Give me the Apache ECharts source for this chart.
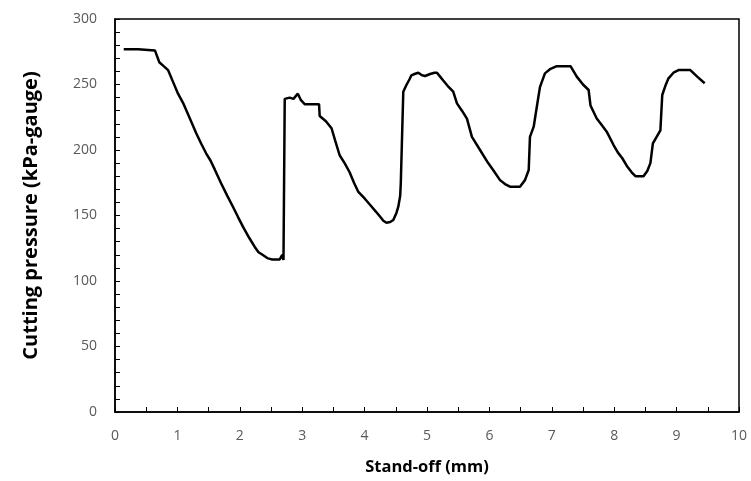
<!DOCTYPE html>
<html>
<head>
<meta charset="utf-8">
<script src="https://cdn.jsdelivr.net/npm/echarts@6/dist/echarts.min.js"></script>
<style>
  body { margin: 0; background: #fff; }
  #main { width: 751px; height: 481px; }
</style>
</head>
<body>
<div id="main"></div>
<script>
// stand-off (mm)
const standOff = [
  0.14, 0.37, 0.38, 0.64, 0.71, 0.78, 0.85, 0.93, 1.01, 1.09,
  1.20, 1.30, 1.38, 1.46, 1.53, 1.60, 1.70, 1.80, 1.89, 1.97,
  2.05, 2.15, 2.24, 2.30, 2.37, 2.44, 2.51, 2.64, 2.68, 2.70,
  2.71, 2.72, 2.80, 2.86, 2.93, 2.98, 3.04, 3.27, 3.28, 3.38,
  3.47, 3.53, 3.60, 3.68, 3.76, 3.83, 3.90, 4.00, 4.09, 4.18,
  4.25, 4.30, 4.35, 4.41, 4.46, 4.51, 4.54, 4.57, 4.58, 4.60,
  4.62, 4.67, 4.72, 4.75, 4.80, 4.86, 4.92, 4.97, 5.05, 5.12,
  5.16, 5.21, 5.26, 5.33, 5.42, 5.48, 5.56, 5.64, 5.72, 5.85,
  5.98, 6.06, 6.17, 6.25, 6.33, 6.49, 6.57, 6.63, 6.65, 6.71,
  6.76, 6.81, 6.89, 6.98, 7.08, 7.30, 7.40, 7.50, 7.59, 7.62,
  7.72, 7.80, 7.88, 7.99, 8.06, 8.13, 8.20, 8.28, 8.34, 8.47,
  8.53, 8.58, 8.62, 8.68, 8.74, 8.77, 8.82, 8.87, 8.95, 9.03,
  9.22, 9.33, 9.45
]
// cutting pressure (kPa-gauge)
const pressure = [
  277, 277, 276, 276, 267, 264, 261, 252, 243, 236,
  224, 213, 205, 197.5, 192, 185, 174.6, 165, 156.7, 149,
  141.5, 133, 126, 122, 119.8, 117.5, 116.5, 116.5, 120, 116,
  116, 239, 240, 239, 243, 238, 235, 235, 226, 222,
  216.6, 207, 196, 190, 183, 175, 168, 163, 158, 153,
  149, 146, 144.5, 145, 146.6, 152, 156.7, 165, 174.6, 175,
  244.5, 249.6, 254, 257, 258, 259, 257, 256.5, 258, 259,
  259, 256, 253, 249, 244.5, 235.6, 230, 224, 210, 200,
  190, 184.7, 177, 174, 172, 172, 177, 184.7, 210, 217.8,
  233, 248, 258.5, 262, 264, 264, 256, 250, 245.8, 234,
  224, 219, 214, 203.8, 198, 193.7, 188, 183, 180, 180,
  184, 190, 205, 210, 215, 242, 249, 254.7, 259, 261,
  261, 256, 251
]

const points = []
for (let i = 0; i < standOff.length; i++) {
  points.push([standOff[i], pressure[i]])
}

const myChart = echarts.init(document.getElementById('main'))
const option = {
  animation: false,
  grid: {
    left: 115,
    right: 12,
    top: 19,
    bottom: 68,
    show: true,
    borderColor: '#000',
    borderWidth: 1.5
  },
  xAxis: {
    type: 'value',
    min: 0,
    max: 10,
    interval: 1,
    name: 'Stand-off (mm)',
    nameLocation: 'middle',
    nameGap: 47,
    nameTextStyle: { fontFamily: 'Open Sans', fontWeight: 'bold', fontSize: 16.5, color: '#000' },
    axisLine: { onZero: false, lineStyle: { color: '#000', width: 1.5 } },
    axisTick: { inside: true, length: 5, lineStyle: { color: '#000' } },
    minorTick: { show: true, splitNumber: 2, length: 5, lineStyle: { color: '#000' } },
    axisLabel: { fontFamily: 'Open Sans', fontSize: 14, color: '#595959', margin: 17 },
    splitLine: { show: false }
  },
  yAxis: {
    type: 'value',
    min: 0,
    max: 300,
    interval: 50,
    name: 'Cutting pressure (kPa-gauge)',
    nameLocation: 'middle',
    nameGap: 74,
    nameTextStyle: { fontFamily: 'Open Sans', fontWeight: 'bold', fontSize: 20, color: '#000' },
    axisLine: { show: true, lineStyle: { color: '#000', width: 1.5 } },
    axisTick: { show: true, inside: true, length: 5, lineStyle: { color: '#000' } },
    minorTick: { show: true, splitNumber: 5, length: 5, lineStyle: { color: '#000' } },
    axisLabel: { fontFamily: 'Open Sans', fontSize: 14, color: '#595959', margin: 18 },
    splitLine: { show: false }
  },
  series: [
    {
      type: 'line',
      data: points,
      showSymbol: false,
      lineStyle: { color: '#000', width: 2.5 }
    }
  ]
}
myChart.setOption(option)
</script>
</body>
</html>
